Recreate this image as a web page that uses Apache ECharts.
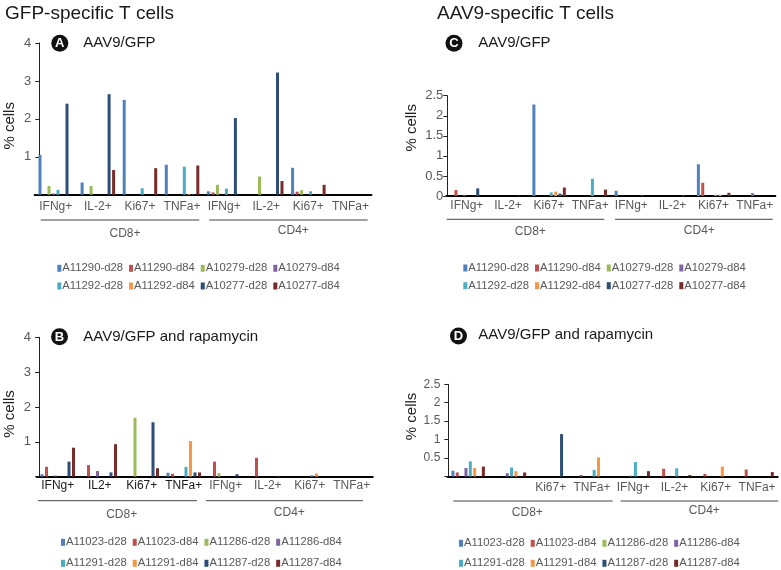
<!DOCTYPE html>
<html><head><meta charset="utf-8">
<script src="https://cdn.jsdelivr.net/npm/echarts@6/dist/echarts.min.js"></script>
<style>html,body{margin:0;padding:0;background:#fff}#c{width:781px;height:570px}</style>
</head><body><div id="c"></div>
<script>
// ---------- categories & tick labels ----------
const categories  = ['IFNg+','IL-2+','Ki67+','TNFa+','IFNg+','IL-2+','Ki67+','TNFa+'];
const categoriesB = ['IFNg+','IL2+','Ki67+','TNFa+','IFNg+','IL-2+','Ki67+','TNFa+'];
const ticksGFP = [0,1,2,3,4];
const ticksAAV = [0,0.5,1,1.5,2,2.5];
const namesAC = ['A11290-d28','A11290-d84','A10279-d28','A10279-d84','A11292-d28','A11292-d84','A10277-d28','A10277-d84'];
const namesBD = ['A11023-d28','A11023-d84','A11286-d28','A11286-d84','A11291-d28','A11291-d84','A11287-d28','A11287-d84'];
const colors = ['#4F81BD','#C0504D','#9BBB59','#8064A2','#4BACC6','#F79646','#2C4D75','#772C2A'];

// ---------- Panel A: GFP-specific, AAV9/GFP ----------
const A_A11290_d28 = [1.05, 0.32, 2.50, 0.79, 0.09, 0, 0.71, 0];
const A_A11290_d84 = [0, 0, 0, 0, 0.06, 0, 0.08, 0];
const A_A10279_d28 = [0.23, 0.23, 0, 0, 0.26, 0.48, 0.12, 0];
const A_A10279_d84 = [0.03, 0, 0, 0, 0, 0, 0, 0];
const A_A11292_d28 = [0.13, 0, 0.17, 0.74, 0.16, 0, 0.09, 0];
const A_A11292_d84 = [0, 0, 0, 0.02, 0, 0, 0, 0];
const A_A10277_d28 = [2.40, 2.65, 0, 0.02, 2.02, 3.22, 0, 0];
const A_A10277_d84 = [0, 0.65, 0.70, 0.77, 0, 0.36, 0.26, 0];

// ---------- Panel B: GFP-specific, AAV9/GFP and rapamycin ----------
const B_A11023_d28 = [0.07, 0, 0, 0.11, 0, 0, 0, 0];
const B_A11023_d84 = [0.28, 0.33, 0, 0.08, 0.43, 0.54, 0, 0];
const B_A11286_d28 = [0, 0, 1.69, 0, 0.10, 0, 0, 0];
const B_A11286_d84 = [0.03, 0.16, 0, 0, 0, 0, 0, 0];
const B_A11291_d28 = [0, 0, 0, 0.28, 0, 0, 0.04, 0];
const B_A11291_d84 = [0, 0, 0, 1.02, 0, 0, 0.09, 0];
const B_A11287_d28 = [0.43, 0.12, 1.56, 0.12, 0.07, 0.02, 0, 0];
const B_A11287_d84 = [0.83, 0.93, 0.24, 0.12, 0, 0, 0, 0];

// ---------- Panel C: AAV9-specific, AAV9/GFP ----------
const C_A11290_d28 = [0, 0, 2.28, 0, 0.13, 0, 0.79, 0];
const C_A11290_d84 = [0.15, 0, 0, 0, 0, 0, 0.33, 0];
const C_A10279_d28 = [0, 0, 0, 0, 0, 0, 0, 0];
const C_A10279_d84 = [0.02, 0, 0, 0, 0, 0, 0, 0.07];
const C_A11292_d28 = [0, 0, 0.09, 0.43, 0, 0, 0.03, 0];
const C_A11292_d84 = [0, 0, 0.11, 0, 0, 0, 0.03, 0];
const C_A10277_d28 = [0.19, 0.01, 0.06, 0, 0.02, 0.02, 0, 0];
const C_A10277_d84 = [0, 0, 0.21, 0.16, 0, 0, 0.08, 0];

// ---------- Panel D: AAV9-specific, AAV9/GFP and rapamycin ----------
const D_A11023_d28 = [0.155, 0, 0, 0, 0, 0, 0, 0];
const D_A11023_d84 = [0.11, 0, 0, 0.04, 0, 0.21, 0.07, 0.19];
const D_A11286_d28 = [0, 0, 0, 0, 0, 0, 0, 0];
const D_A11286_d84 = [0.23, 0.09, 0, 0, 0.02, 0, 0, 0];
const D_A11291_d28 = [0.41, 0.245, 0, 0.18, 0.39, 0.22, 0, 0];
const D_A11291_d84 = [0.23, 0.145, 0, 0.52, 0, 0, 0.27, 0];
const D_A11287_d28 = [0, 0, 1.15, 0, 0, 0, 0, 0];
const D_A11287_d84 = [0.27, 0.11, 0, 0, 0.145, 0.04, 0, 0.12];

const panelData = [
  [A_A11290_d28,A_A11290_d84,A_A10279_d28,A_A10279_d84,A_A11292_d28,A_A11292_d84,A_A10277_d28,A_A10277_d84],
  [B_A11023_d28,B_A11023_d84,B_A11286_d28,B_A11286_d84,B_A11291_d28,B_A11291_d84,B_A11287_d28,B_A11287_d84],
  [C_A11290_d28,C_A11290_d84,C_A10279_d28,C_A10279_d84,C_A11292_d28,C_A11292_d84,C_A10277_d28,C_A10277_d84],
  [D_A11023_d28,D_A11023_d84,D_A11286_d28,D_A11286_d84,D_A11291_d28,D_A11291_d84,D_A11287_d28,D_A11287_d84]
];
const panelNames = [namesAC, namesBD, namesAC, namesBD];

// ---------- layout ----------
const FONT = 'Liberation Sans, Arial, Helvetica, sans-serif';
const grids = [
  {left:34.7, top:43,    width:336.8, height:151.7},
  {left:36.75,top:337.3, width:336,   height:139.3},
  {left:446.3,top:95.7,  width:329,   height:100.3},
  {left:447.5,top:384.3, width:330.2, height:92.2}
];
const yOff = [-4.6, -2.3, -1, -0.8];
const yMax = [4, 4, 2.5, 2.5];
const yInt = [1, 1, 0.5, 0.5];
const yLabelMargin = [8, 8, 4, 8];
const yLabelSize = [13, 13, 13, 12];
const yHideZero = [true, true, false, true];
const nameGap = [22, 21.5, 28, 27];
const namePad = [[0,14,0,0],[0,14,0,0],[0,0,0,36],[0,0,0,28]];
const xMargin = [6, 3, 4, 5];
const barGaps = ['50%','50%','45%','45%'];

function xData(p){
  if (p === 1) return categoriesB.map((c,i)=>({value:c, textStyle:{color: i<4 ? '#1a1a1a' : '#595959'}}));
  return categories.slice();
}

const xAxis = [0,1,2,3].map(p=>({
  type:'category', gridIndex:p, data:xData(p),
  axisLine:{show:true, lineStyle:{color:'#000', width:2}},
  axisTick:{show:false},
  axisLabel:{interval:0, fontSize:12, fontFamily:FONT, color:'#595959', margin:xMargin[p],
    formatter: (v, i) => (p===3 && i<2) ? '' : v}
}));
const yAxis = [0,1,2,3].map(p=>({
  type:'value', gridIndex:p, min:0, max:yMax[p], interval:yInt[p], offset:yOff[p],
  name:'% cells', nameLocation:'middle', nameRotate:90, nameGap:nameGap[p],
  nameTextStyle:{fontSize:15, fontFamily:FONT, color:'#222', padding:namePad[p]},
  axisLine:{show:true, lineStyle:{color:'#222', width:1}},
  axisTick:{show:true, length:4, lineStyle:{color:'#222'}},
  splitLine:{show:false},
  axisLabel:{fontSize:yLabelSize[p], fontFamily:FONT, color:'#595959', margin:yLabelMargin[p],
    formatter: v => (yHideZero[p] && v===0) ? '' : String(v)}
}));

const series = [];
panelData.forEach((arrs,p)=>{
  arrs.forEach((d,s)=>{
    series.push({
      type:'bar', name:panelNames[p][s], xAxisIndex:p, yAxisIndex:p,
      data:d, barWidth:3, barGap:barGaps[p], itemStyle:{color:colors[s]},
      silent:true, animation:false
    });
  });
});

const legendPos = [
  [57.3, 268.3], [57.3, 286],
  [61, 542.3],   [61, 563.3],
  [463.3, 268],  [463.3, 285.7],
  [459, 543.3],  [459, 563.3]
];
const legend = legendPos.map((pos,k)=>{
  const p = Math.floor(k/2);
  const names = panelNames[p].slice((k%2)*4, (k%2)*4+4);
  return {
    data:names, left:pos[0], top:pos[1]-7, orient:'horizontal', padding:0,
    itemWidth:4, itemHeight:7, itemGap:6, icon:'rect', selectedMode:false,
    textStyle:{fontSize:11.3, fontFamily:FONT, color:'#595959', lineHeight:14, padding:[0,0,0,-4]}
  };
});

const title = [
  {text:'GFP-specific T cells', left:5, top:3, padding:0, textStyle:{fontSize:19, lineHeight:22, fontWeight:'normal', fontFamily:FONT, color:'#1a1a1a'}},
  {text:'AAV9-specific T cells', left:437, top:3, padding:0, textStyle:{fontSize:19, lineHeight:22, fontWeight:'normal', fontFamily:FONT, color:'#1a1a1a'}},
  {text:'AAV9/GFP', left:83.3, top:34.3, padding:0, textStyle:{fontSize:15, lineHeight:18, fontWeight:'normal', fontFamily:FONT, color:'#1a1a1a'}},
  {text:'AAV9/GFP and rapamycin', left:83.3, top:327.7, padding:0, textStyle:{fontSize:15, lineHeight:18, fontWeight:'normal', fontFamily:FONT, color:'#1a1a1a'}},
  {text:'AAV9/GFP', left:478.3, top:33.7, padding:0, textStyle:{fontSize:15, lineHeight:18, fontWeight:'normal', fontFamily:FONT, color:'#1a1a1a'}},
  {text:'AAV9/GFP and rapamycin', left:478.3, top:326, padding:0, textStyle:{fontSize:15, lineHeight:18, fontWeight:'normal', fontFamily:FONT, color:'#1a1a1a'}}
];

// ---------- annotations ----------
const badges = [['A',59.8,43.3],['B',59.5,336.7],['C',454,43.3],['D',458.5,336]];
const brackets = [
  [40.7,199.3,220],[209.3,367.7,220],
  [38,197,500.7],[206,363,500.7],
  [446.7,604.3,219.3],[615,772.7,219.3],
  [453.3,612.7,501],[620.7,778.3,501]
];
const groupLabels = [
  ['CD8+',125,233.3],['CD4+',293.3,230.7],
  ['CD8+',121.7,515],['CD4+',289.3,512.3],
  ['CD8+',530.3,231.7],['CD4+',699.3,230.7],
  ['CD8+',527.3,512.3],['CD4+',704.3,511]
];
const graphic = [];
badges.forEach(b=>{
  graphic.push({type:'circle', shape:{cx:b[1], cy:b[2], r:8.5}, style:{fill:'#111'}, silent:true});
  graphic.push({type:'text', x:b[1], y:b[2]+0.5, style:{text:b[0], fill:'#fff', font:'bold 13px '+FONT,
    align:'center', verticalAlign:'middle', textAlign:'center', textVerticalAlign:'middle'}, silent:true});
});
brackets.forEach(l=>{
  graphic.push({type:'line', shape:{x1:l[0], y1:l[2], x2:l[1], y2:l[2]}, style:{stroke:'#444', lineWidth:1}, silent:true});
});
groupLabels.forEach(t=>{
  graphic.push({type:'text', x:t[1], y:t[2], style:{text:t[0], fill:'#595959', font:'12px '+FONT,
    align:'center', verticalAlign:'middle', textAlign:'center', textVerticalAlign:'middle'}, silent:true});
});

const chart = echarts.init(document.getElementById('c'), null, {renderer:'canvas'});
chart.setOption({
  animation:false,
  backgroundColor:'#fff',
  title, legend, graphic,
  grid: grids,
  xAxis, yAxis, series
});
</script>
</body></html>
